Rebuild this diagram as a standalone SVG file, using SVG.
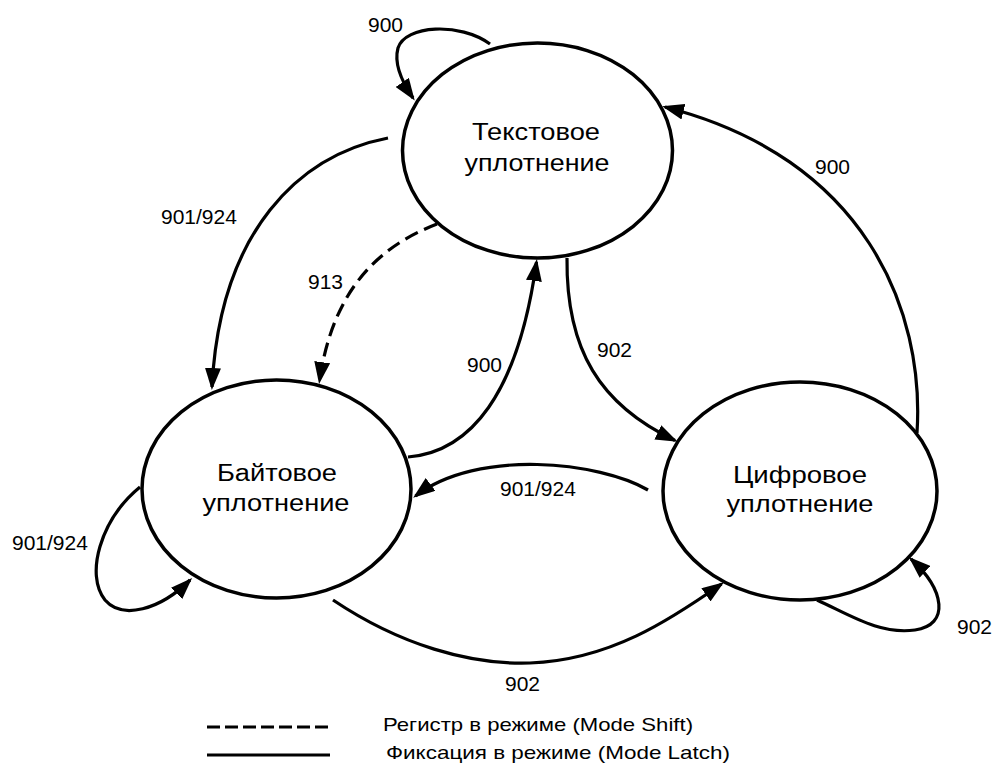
<svg xmlns="http://www.w3.org/2000/svg" width="994" height="765" viewBox="0 0 994 765">
<style>
  .node { fill: #ffffff; stroke: #000000; stroke-width: 3.5; }
  .ntxt { font-family: "Liberation Sans", Arial, sans-serif; font-size: 23px; fill: #000; text-anchor: middle; }
  .edge { fill: none; stroke: #000000; stroke-width: 3.2; }
  .dash { stroke-dasharray: 14 7; }
  .lbl { font-family: "Liberation Sans", Arial, sans-serif; font-size: 21px; fill: #000; }
  .leg { font-family: "Liberation Sans", Arial, sans-serif; font-size: 19px; fill: #000; }
</style>
<defs>
  <marker id="arr" markerUnits="userSpaceOnUse" markerWidth="22" markerHeight="16" viewBox="0 0 22 16" refX="19" refY="8" orient="auto">
    <path d="M0,0 L22,8 L0,16 z" fill="#000"/>
  </marker>
</defs>
<rect width="994" height="765" fill="#ffffff"/>

<g id="connectors">
  <path class="edge" d="M490,44 C460,22 405,25 398,48 C394,63 402,82 413,98" marker-end="url(#arr)"/>
  <path class="edge" d="M388,138 C300,155 220,230 212,387" marker-end="url(#arr)"/>
  <path class="edge dash" d="M437,224 C380,246 333,288 319.5,381" marker-end="url(#arr)"/>
  <path class="edge" d="M408,457 C470,452 518,395 536.5,262" marker-end="url(#arr)"/>
  <path class="edge" d="M567,258 C566,350 600,405 675,440.5" marker-end="url(#arr)"/>
  <path class="edge" d="M917,433 C925,310 865,158 665,107" marker-end="url(#arr)"/>
  <path class="edge" d="M648,490 C600,462 478,448 415.5,496" marker-end="url(#arr)"/>
  <path class="edge" d="M140,487 C100,520 85,575 105,600 C122,620 160,610 190,580" marker-end="url(#arr)"/>
  <path class="edge" d="M817,600 C850,615 880,635 915,630 C950,625 945,590 911,559" marker-end="url(#arr)"/>
  <path class="edge" d="M333,600 C400,645 470,665 530,663 C610,660 670,620 721.5,584" marker-end="url(#arr)"/>
</g>

<g id="node-text">
  <ellipse class="node" cx="537.5" cy="150.5" rx="135" ry="107.5"/>
  <text class="ntxt" x="536" y="140" textLength="128" lengthAdjust="spacingAndGlyphs">Текстовое</text>
  <text class="ntxt" x="537" y="171" textLength="145" lengthAdjust="spacingAndGlyphs">уплотнение</text>
</g>
<g id="node-byte">
  <ellipse class="node" cx="276.5" cy="489" rx="134.5" ry="109"/>
  <text class="ntxt" x="277" y="481" textLength="120" lengthAdjust="spacingAndGlyphs">Байтовое</text>
  <text class="ntxt" x="276" y="511" textLength="147" lengthAdjust="spacingAndGlyphs">уплотнение</text>
</g>
<g id="node-numeric">
  <ellipse class="node" cx="800" cy="491" rx="137" ry="109"/>
  <text class="ntxt" x="800" y="483" textLength="134" lengthAdjust="spacingAndGlyphs">Цифровое</text>
  <text class="ntxt" x="800" y="512" textLength="147" lengthAdjust="spacingAndGlyphs">уплотнение</text>
</g>

<g id="labels">
  <text class="lbl" x="368" y="32">900</text>
  <text class="lbl" x="161" y="224">901/924</text>
  <text class="lbl" x="308" y="289">913</text>
  <text class="lbl" x="467" y="372">900</text>
  <text class="lbl" x="597" y="357">902</text>
  <text class="lbl" x="815" y="174">900</text>
  <text class="lbl" x="500" y="496">901/924</text>
  <text class="lbl" x="12" y="550">901/924</text>
  <text class="lbl" x="957" y="634">902</text>
  <text class="lbl" x="505" y="691">902</text>
</g>

<g id="legend">
  <line class="edge" x1="207" y1="727" x2="330" y2="727" stroke-dasharray="13 5"/>
  <text class="leg" x="383" y="731" textLength="310" lengthAdjust="spacingAndGlyphs">Регистр в режиме (Mode Shift)</text>
  <line class="edge" x1="207" y1="755" x2="330" y2="755"/>
  <text class="leg" x="386" y="759" textLength="344" lengthAdjust="spacingAndGlyphs">Фиксация в режиме (Mode Latch)</text>
</g>
</svg>
